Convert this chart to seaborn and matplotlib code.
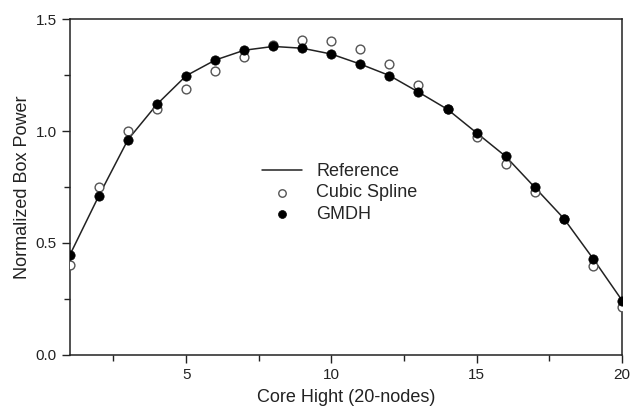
import numpy as np
import pandas as pd
import matplotlib
matplotlib.use('Agg')
import matplotlib.pyplot as plt
import seaborn as sns
from matplotlib.ticker import MultipleLocator

# data
nodes = list(range(1, 21))
reference = [0.447, 0.712, 0.962, 1.120, 1.247, 1.317, 1.361, 1.378, 1.370, 1.344,
             1.299, 1.248, 1.174, 1.097, 0.992, 0.887, 0.749, 0.610, 0.432, 0.245]
cubic_spline = [0.400, 0.752, 1.000, 1.097, 1.187, 1.269, 1.333, 1.385, 1.406, 1.402,
                1.366, 1.300, 1.207, 1.097, 0.974, 0.851, 0.728, 0.609, 0.395, 0.213]
gmdh = [0.445, 0.710, 0.960, 1.120, 1.248, 1.317, 1.361, 1.379, 1.369, 1.343,
        1.299, 1.248, 1.173, 1.097, 0.992, 0.887, 0.749, 0.609, 0.430, 0.243]

df = pd.DataFrame({'node': nodes, 'Reference': reference,
                   'Cubic Spline': cubic_spline, 'GMDH': gmdh})

sns.set_style('ticks')
plt.rcParams['font.family'] = ['Liberation Sans', 'DejaVu Sans']

fig, ax = plt.subplots(figsize=(6.3, 4.07), dpi=100)
fig.subplots_adjust(left=0.111, right=0.987, bottom=0.128, top=0.953)

sns.lineplot(data=df, x='node', y='Reference', ax=ax, color='#222222',
             linewidth=1.1, label='Reference')
sns.scatterplot(data=df, x='node', y='Cubic Spline', ax=ax, marker='o', s=40,
                facecolor='white', edgecolor='#555555', linewidth=1.0,
                label='Cubic Spline', zorder=3)
sns.scatterplot(data=df, x='node', y='GMDH', ax=ax, marker='o', s=45,
                color='black', edgecolor='black', linewidth=0.5,
                label='GMDH', zorder=4)
# points at the frame edges are cut by the axes box, as in the original
for coll in ax.collections:
    coll.set_clip_on(True)
    coll.set_clip_box(ax.bbox)

ax.set_xlim(1, 20)
ax.set_ylim(0, 1.5)
ax.xaxis.set_major_locator(MultipleLocator(5))
ax.xaxis.set_minor_locator(MultipleLocator(2.5))
ax.yaxis.set_major_locator(MultipleLocator(0.5))
ax.yaxis.set_minor_locator(MultipleLocator(0.25))
ax.yaxis.set_major_formatter(matplotlib.ticker.FormatStrFormatter('%.1f'))
ax.tick_params(which='major', direction='out', length=6, width=1, labelsize=11,
               colors='#222222')
ax.tick_params(which='minor', direction='out', length=4, width=1, colors='#222222')
for sp in ax.spines.values():
    sp.set_visible(True)
    sp.set_linewidth(1.1)
    sp.set_color('#222222')

ax.set_xlabel('Core Hight (20-nodes)', fontsize=13, color='#222222', labelpad=5)
ax.set_ylabel('Normalized Box Power', fontsize=13, color='#222222', labelpad=3)

ax.legend(loc='upper left', bbox_to_anchor=(0.319, 0.62), frameon=False,
          fontsize=13, handlelength=2.2, labelspacing=0.25, handletextpad=0.8,
          markerscale=0.85)

fig.savefig('out.png', dpi=100)
